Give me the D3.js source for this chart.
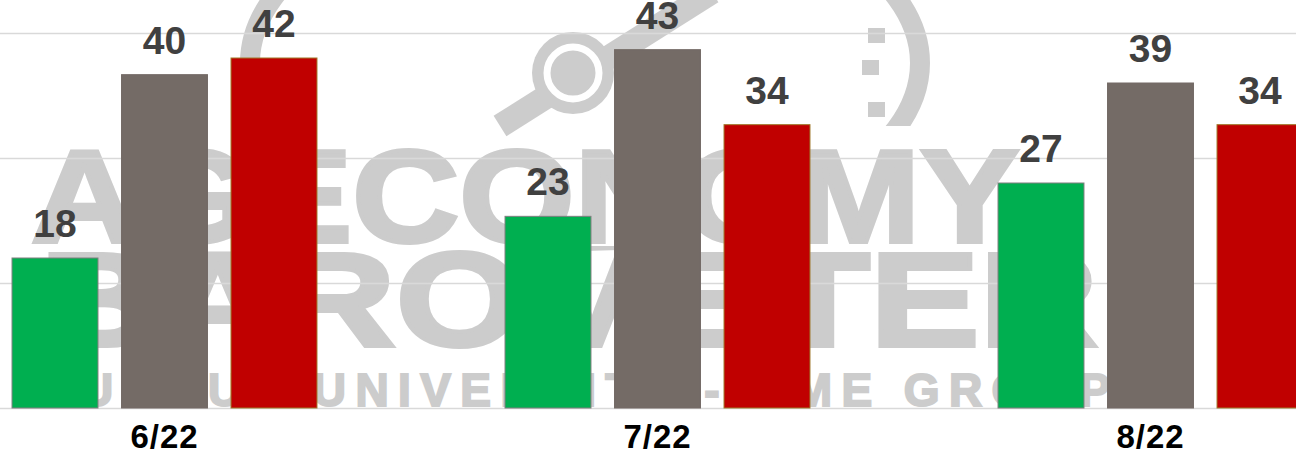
<!DOCTYPE html>
<html>
<head>
<meta charset="utf-8">
<script src="https://cdn.jsdelivr.net/npm/d3@7"></script>
<style>
  html, body { margin: 0; padding: 0; background: #fff; }
  svg { display: block; font-family: "Liberation Sans", Arial, sans-serif; }
</style>
</head>
<body>
<svg width="1296" height="453"></svg>
<script>
// chart data
var categories = ["6/22", "7/22", "8/22"];
var seriesNames = ["better", "same", "worse"];
var seriesColors = ["#00af50", "#746b66", "#c00000"];
var seriesStrokes = ["#7f7f7f", "#746b66", "#a0782a"];
var values = [
    [18, 40, 42],   // 6/22
    [23, 43, 34],   // 7/22
    [27, 39, 34]    // 8/22
];
var gridTicks = [0, 15, 30, 45];

var svg = d3.select("svg"),
    width = +svg.attr("width"),
    height = +svg.attr("height");

var groupStep = 493;
var x0 = d3.scaleBand()
    .domain(categories)
    .range([164.5 - groupStep / 2, 164.5 - groupStep / 2 + groupStep * categories.length])
    .padding(0);

var innerWidth = 328.5;
var x1 = d3.scaleBand()
    .domain(seriesNames)
    .range([(groupStep - innerWidth) / 2, (groupStep + innerWidth) / 2])
    .paddingInner(0.215)
    .paddingOuter(0.1075);

var y = d3.scaleLinear()
    .domain([0, 45])
    .range([408, 33]);

// watermark (logo + lettering)
var wm = svg.append("g").attr("class", "watermark").attr("fill", "#cccccc");

wm.append("ellipse")
    .attr("cx", 585).attr("cy", 63).attr("rx", 335).attr("ry", 178)
    .attr("fill", "none").attr("stroke", "#cccccc").attr("stroke-width", 20);
// cover the lower part of the dial ring
wm.append("rect").attr("x", 200).attr("y", 126).attr("width", 800).attr("height", 120).attr("fill", "#fff");

[[868, 28], [862, 60], [868, 102]].forEach(function (t) {
    wm.append("rect").attr("x", t[0]).attr("y", t[1]).attr("width", 17).attr("height", 15);
});

wm.append("line")
    .attr("x1", 500).attr("y1", 126).attr("x2", 712).attr("y2", -8)
    .attr("stroke", "#cccccc").attr("stroke-width", 24);
wm.append("circle").attr("cx", 573).attr("cy", 73).attr("r", 41);
wm.append("circle").attr("cx", 573).attr("cy", 73).attr("r", 26)
    .attr("fill", "none").attr("stroke", "#fff").attr("stroke-width", 7);

wm.append("text")
    .attr("x", 31).attr("y", 242)
    .attr("font-size", 132).attr("font-weight", "bold")
    .attr("stroke", "#cccccc").attr("stroke-width", 4).attr("stroke-linejoin", "miter")
    .attr("textLength", 988).attr("lengthAdjust", "spacingAndGlyphs")
    .text("AGECONOMY");
wm.append("text")
    .attr("x", 40).attr("y", 346)
    .attr("font-size", 133).attr("font-weight", "bold")
    .attr("stroke", "#cccccc").attr("stroke-width", 4).attr("stroke-linejoin", "miter")
    .attr("textLength", 1058).attr("lengthAdjust", "spacingAndGlyphs")
    .text("BAROMETER");
wm.append("text")
    .attr("x", 40).attr("y", 406)
    .attr("font-size", 46).attr("font-weight", "bold")
    .attr("stroke", "#cccccc").attr("stroke-width", 2)
    .attr("textLength", 1070).attr("lengthAdjust", "spacing")
    .text("PURDUE UNIVERSITY - CME GROUP");

// gridlines
svg.append("g")
    .attr("class", "grid")
    .selectAll("line")
    .data(gridTicks)
    .enter().append("line")
    .attr("x1", 0)
    .attr("x2", width)
    .attr("y1", function (d) { return Math.round(y(d)) + 0.5; })
    .attr("y2", function (d) { return Math.round(y(d)) + 0.5; })
    .attr("stroke", "#d9d9d9")
    .attr("stroke-width", 1.5);

// bars
var groups = svg.append("g")
    .attr("class", "bars")
    .selectAll("g")
    .data(categories)
    .enter().append("g")
    .attr("transform", function (d) { return "translate(" + x0(d) + ",0)"; });

groups.selectAll("rect")
    .data(function (d, i) { return values[i].map(function (v, j) { return { key: seriesNames[j], value: v, j: j }; }); })
    .enter().append("rect")
    .attr("x", function (d) { return x1(d.key); })
    .attr("y", function (d) { return y(d.value); })
    .attr("width", x1.bandwidth())
    .attr("height", function (d) { return y(0) - y(d.value); })
    .attr("fill", function (d) { return seriesColors[d.j]; })
    .attr("stroke", function (d) { return seriesStrokes[d.j]; })
    .attr("stroke-width", 1);

groups.selectAll("text.value")
    .data(function (d, i) { return values[i].map(function (v, j) { return { key: seriesNames[j], value: v }; }); })
    .enter().append("text")
    .attr("class", "value")
    .attr("x", function (d) { return x1(d.key) + x1.bandwidth() / 2; })
    .attr("y", function (d) { return y(d.value) - 21; })
    .attr("text-anchor", "middle")
    .attr("font-size", 39)
    .attr("font-weight", "bold")
    .attr("fill", "#404040")
    .text(function (d) { return d.value; });

// category axis labels
svg.append("g")
    .attr("class", "x-labels")
    .selectAll("text")
    .data(categories)
    .enter().append("text")
    .attr("x", function (d) { return x0(d) + x0.bandwidth() / 2; })
    .attr("y", 448)
    .attr("text-anchor", "middle")
    .attr("font-size", 33)
    .attr("font-weight", "bold")
    .attr("letter-spacing", 1)
    .attr("fill", "#000")
    .text(function (d) { return d; });
</script>
</body>
</html>
